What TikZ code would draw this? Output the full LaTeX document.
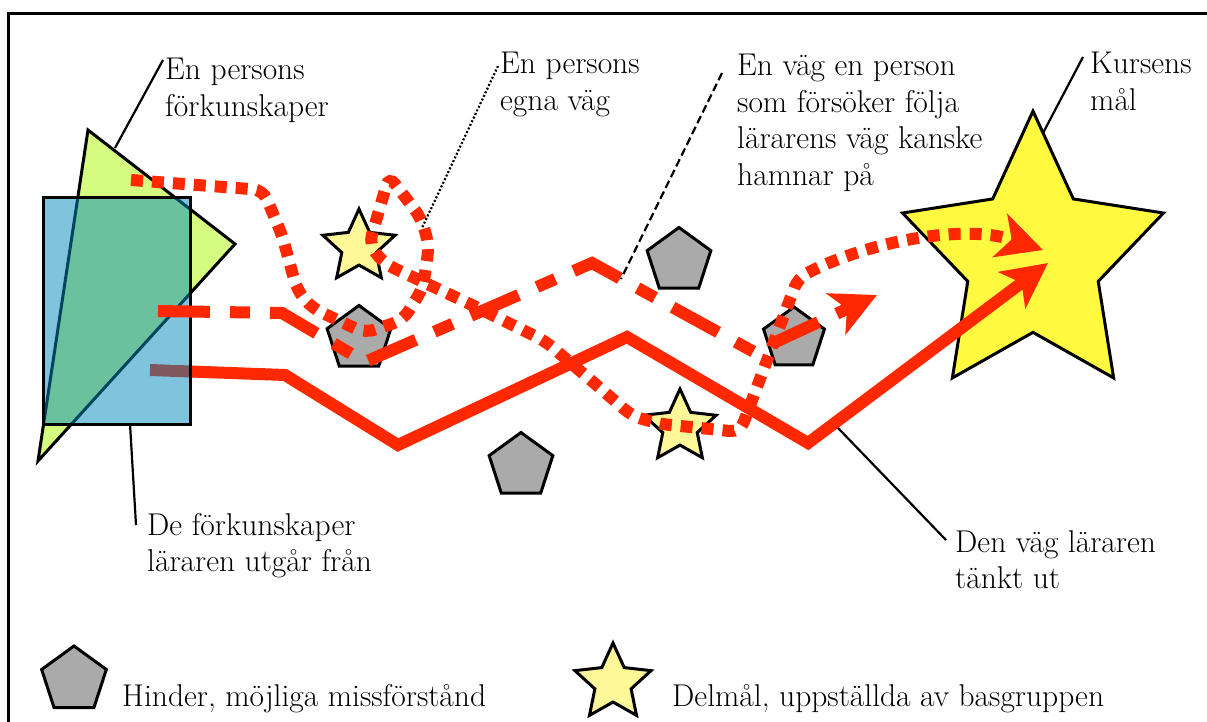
\documentclass[tikz,border=0pt]{standalone}
\usepackage{fontspec}
\usetikzlibrary{shapes.geometric,arrows.meta}
\definecolor{redpath}{RGB}{255,40,0}
\definecolor{trigreen}{RGB}{212,250,127}
\definecolor{rectblue}{RGB}{0,137,187}
\definecolor{obstgray}{RGB}{170,170,170}
\definecolor{substar}{RGB}{255,248,153}
\definecolor{goalstar}{RGB}{255,250,64}
\begin{document}
\begin{tikzpicture}[x=1pt,y=-1pt,
  obst/.style={regular polygon, regular polygon sides=5, draw=black, line width=3pt, fill=obstgray, minimum size=67pt, inner sep=0pt},
  substar/.style={star, star points=5, star point ratio=2.1, draw=black, line width=3pt, fill=substar, minimum size=76pt, inner sep=0pt},
  lbl/.style={anchor=base west, inner sep=0pt, font=\rmfamily\fontsize{31.5}{36.5}\selectfont},
  redline/.style={draw=redpath, line width=12pt},
  leader/.style={draw=black, line width=2.2pt},
  bigarrow/.style={-{Stealth[length=45pt, width=45pt, inset=12pt]}}
]
\useasboundingbox (0,0) rectangle (1207,722);
\fill[white] (0,0) rectangle (1207,722);
% frame
\draw[line width=3pt] (8,740) -- (8,14) -- (1230,14);

% prior knowledge shapes
\draw[fill=trigreen, line width=3pt, line join=miter] (88,130) -- (235,244) -- (38,461) -- cycle;

% goal star
\begin{scope}[shift={(1033,258.6)}, xscale=0.93]
\node[star, star points=5, star point ratio=2.0, draw=black, line width=3pt, fill=goalstar, minimum size=295pt, inner sep=0pt, transform shape] (goal) at (0,0) {};
\end{scope}

% obstacles and sub-goals
\node[obst] (p1) at (359,339) {};
\node[obst] (p2) at (679,261) {};
\node[obst] (p3) at (521,466) {};
\node[obst, minimum size=64pt] (p4) at (794,339) {};
\node[substar] (s1) at (359,247) {};
\node[substar] (s2) at (680,427) {};

% teacher's path (solid)
\draw[redline, line join=miter, bigarrow] (150,370) -- (285,375) -- (398,445) -- (627,337) -- (808,443) -- (1048,263);

% teacher's prior knowledge rectangle
\draw[fill=rectblue, fill opacity=0.5, line width=3pt] (43,198) rectangle (190,424);

% path of a person trying to follow (dashed)
\draw[redline, dash pattern=on 52pt off 20pt on 20pt off 20pt, line join=miter, bigarrow] (158,311) -- (282,313) -- (365,362) -- (592,263) -- (754,352) -- (877,295);

% person's own path (dotted)
\draw[redline, dash pattern=on 12pt off 9pt, rounded corners=10pt, bigarrow] (131,180) -- (263,190) -- (282,235) -- (297,290) -- (312,308) -- (365,333) -- (403,320) -- (423,288) -- (429,245) -- (421,218) -- (389,176) -- (369,245) -- (385,264) -- (470,304) -- (545,341) -- (600,388) -- (632,416) -- (660,424) -- (740,432) -- (798,278) .. controls (860,245) and (960,222) .. (1043,250);

% labels
\node[lbl] (l1) at (165,80) {\begin{tabular}[t]{@{}l@{}}En persons\\förkunskaper\end{tabular}};
\node[lbl] (l2) at (500,74) {\begin{tabular}[t]{@{}l@{}}En persons\\egna väg\end{tabular}};
\node[lbl] (l3) at (737,76) {\begin{tabular}[t]{@{}l@{}}En väg en person\\som försöker följa\\lärarens väg kanske\\hamnar på\end{tabular}};
\node[lbl] (l4) at (1090,74) {\begin{tabular}[t]{@{}l@{}}Kursens\\mål\end{tabular}};
\node[lbl] (l5) at (147,535) {\begin{tabular}[t]{@{}l@{}}De förkunskaper\\läraren utgår från\end{tabular}};
\node[lbl] (l6) at (955,552) {\begin{tabular}[t]{@{}l@{}}Den väg läraren\\tänkt ut\end{tabular}};

% leader lines
\coordinate (a1) at (163,60);  \coordinate (b1) at (115,148);
\coordinate (a2) at (498,66);  \coordinate (b2) at (422,228);
\coordinate (a3) at (722,73);  \coordinate (b3) at (621,279);
\coordinate (a4) at (1083,57); \coordinate (b4) at (1043,133);
\coordinate (a5) at (136,525); \coordinate (b5) at (130,424);
\coordinate (a6) at (946,540); \coordinate (b6) at (838,428);
\draw[leader] (a1) -- (b1);
\draw[leader, dash pattern=on 2pt off 2pt] (a2) -- (b2);
\draw[leader, dash pattern=on 8pt off 4pt] (a3) -- (b3);
\draw[leader] (a4) -- (b4);
\draw[leader] (a5) -- (b5);
\draw[leader] (a6) -- (b6);

% legend
\node[obst, minimum size=68pt] (lp) at (74,680) {};
\node[lbl] (leg1) at (122,706) {Hinder, möjliga missförstånd};
\node[substar, minimum size=80pt] (ls) at (613,683) {};
\node[lbl] (leg2) at (672,706) {Delmål, uppställda av basgruppen};
\end{tikzpicture}
\end{document}
